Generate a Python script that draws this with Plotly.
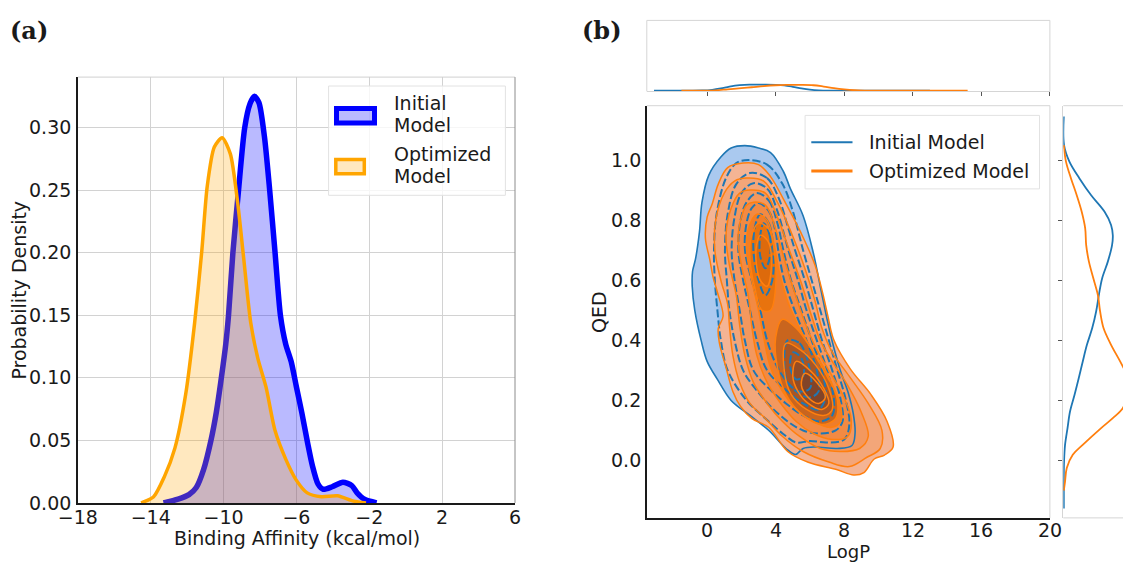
import plotly.graph_objects as go

W, H = 1123, 562
FONT = "DejaVu Sans"

# ---------------- panel (a): binding affinity densities ----------------
affinity_initial_x = [-13.3, -12.5, -11.9, -11.5, -11.1, -10.7, -10.4, -10.12, -9.88, -9.73,
                      -9.49, -9.18, -8.84, -8.55, -8.31, -8.06, -7.76, -7.47, -7.18, -6.88,
                      -6.59, -6.29, -6.0, -5.71, -5.41, -5.12, -4.82, -4.53, -4.04, -3.45,
                      -2.96, -2.67, -2.27, -1.6]
affinity_initial_y = [0.0, 0.003, 0.0066, 0.0123, 0.0266, 0.0496, 0.0725, 0.1003, 0.127, 0.15,
                      0.2, 0.25, 0.3, 0.319, 0.325, 0.32, 0.293, 0.25, 0.201, 0.15,
                      0.127, 0.113, 0.0926, 0.0725, 0.0496, 0.0295, 0.0152, 0.0109, 0.0129, 0.0166,
                      0.0138, 0.008, 0.0029, 0.0]

affinity_optimized_x = [-14.53, -13.84, -13.25, -12.67, -12.08, -11.59, -11.2, -10.9, -10.51, -10.08,
                        -9.63, -9.24, -8.9, -8.51, -8.12, -7.67, -7.18, -6.59, -6.0, -5.41,
                        -4.63, -3.75, -2.86, -2.18]
affinity_optimized_y = [0.0, 0.005, 0.021, 0.044, 0.087, 0.144, 0.201, 0.253, 0.2845, 0.292,
                        0.279, 0.2415, 0.196, 0.144, 0.1155, 0.0925, 0.058, 0.035, 0.018, 0.008,
                        0.005, 0.0057, 0.0014, 0.0]

affinity_ticks = [-18, -14, -10, -6, -2, 2, 6]
density_ticks = [0.0, 0.05, 0.10, 0.15, 0.20, 0.25, 0.30]

# ---------------- panel (b): LogP / QED joint densities ----------------
logp_ticks = [0, 4, 8, 12, 16, 20]
qed_ticks = [0.0, 0.2, 0.4, 0.6, 0.8, 1.0]

# marginal LogP densities (top)
logp_initial_x = [-3.1, -1.0, -0.3, 0.3, 0.8, 1.3, 1.9, 2.6, 3.3, 4.0, 4.5, 5.0, 5.5, 6.0, 6.5, 7.5, 10.0, 13.0]
logp_initial_y = [0.0, 0.0, 0.004, 0.02, 0.05, 0.09, 0.122, 0.13, 0.13, 0.127, 0.115, 0.085, 0.05, 0.022, 0.006, 0.001, 0.0, 0.0]
logp_optimized_x = [-1.5, 0.0, 0.5, 1.2, 2.0, 2.6, 3.3, 4.0, 4.6, 5.4, 6.2, 6.8, 7.4, 8.0, 8.6, 9.2, 11.0, 13.0, 15.2]
logp_optimized_y = [0.0, 0.002, 0.008, 0.03, 0.055, 0.075, 0.1, 0.118, 0.126, 0.125, 0.118, 0.09, 0.055, 0.028, 0.01, 0.003, 0.001, 0.0005, 0.0]

# marginal QED densities (right)
qed_initial_q = [1.145, 1.05, 0.994, 0.939, 0.883, 0.828, 0.784, 0.75, 0.717, 0.662, 0.606, 0.551,
                 0.496, 0.44, 0.385, 0.329, 0.274, 0.218, 0.163, 0.108, 0.052, -0.003, -0.059, -0.16]
qed_initial_d = [0.0, 0.01, 0.23, 0.63, 1.1, 1.64, 1.9, 1.97, 1.94, 1.77, 1.54, 1.41,
                 1.3, 1.14, 0.93, 0.76, 0.6, 0.43, 0.25, 0.15, 0.05, 0.01, 0.0, 0.0]
qed_optimized_q = [1.05, 0.994, 0.939, 0.883, 0.828, 0.773, 0.717, 0.662, 0.606, 0.551, 0.496, 0.44,
                   0.385, 0.329, 0.29, 0.25, 0.21, 0.174, 0.141, 0.108, 0.052, 0.019, -0.025, -0.07, -0.1]
qed_optimized_d = [0.0, 0.09, 0.29, 0.52, 0.72, 0.86, 0.9, 1.01, 1.19, 1.37, 1.46, 1.6,
                   1.9, 2.27, 2.5, 2.62, 2.55, 2.37, 1.97, 1.5, 0.76, 0.36, 0.12, 0.05, 0.0]

# joint-density contour outlines, (LogP, QED) pairs, outermost first
INITIAL_L0 = [(2.2, 1.048), (3.0, 1.04), (3.7, 1.025), (4.45, 0.962), (4.85, 0.906), (5.6, 0.815),
              (6.2, 0.69), (6.6, 0.58), (7.0, 0.47), (7.3, 0.396), (7.75, 0.304), (8.24, 0.224),
              (8.53, 0.155), (8.63, 0.09), (8.45, 0.05), (7.6, 0.04), (6.3, 0.045), (5.6, 0.04),
              (5.15, 0.02), (4.6, 0.04), (3.6, 0.1), (2.5, 0.15), (1.4, 0.2), (0.6, 0.27),
              (0.0, 0.33), (-0.35, 0.40), (-0.72, 0.5), (-0.87, 0.58), (-0.85, 0.63), (-0.68, 0.67),
              (-0.45, 0.76), (-0.3, 0.86), (0.1, 0.95), (0.8, 1.01), (1.4, 1.04)]
INITIAL_L1 = [(2.4, 1.0), (3.5, 0.985), (4.4, 0.92), (5.0, 0.83), (5.6, 0.7), (6.1, 0.6), (6.6, 0.5),
              (7.1, 0.4), (7.6, 0.3), (8.1, 0.2), (8.3, 0.12), (8.0, 0.07), (7.0, 0.06), (6.0, 0.065),
              (5.2, 0.06), (4.4, 0.09), (3.4, 0.14), (2.3, 0.2), (1.2, 0.3), (0.8, 0.4), (0.6, 0.5),
              (0.45, 0.6), (0.4, 0.7), (0.55, 0.82), (1.1, 0.94), (1.7, 0.99)]
INITIAL_L2 = [(2.5, 0.957), (3.5, 0.94), (4.2, 0.87), (4.7, 0.78), (5.13, 0.7), (5.7, 0.6), (6.2, 0.5),
              (6.7, 0.4), (7.3, 0.3), (7.8, 0.2), (7.9, 0.13), (7.5, 0.1), (6.5, 0.09), (5.6, 0.1),
              (4.7, 0.13), (3.7, 0.18), (2.8, 0.24), (2.1, 0.3), (1.6, 0.4), (1.3, 0.5), (1.15, 0.6),
              (1.04, 0.7), (1.2, 0.82), (1.7, 0.92)]
INITIAL_L3 = [(2.7, 0.923), (3.5, 0.905), (4.1, 0.83), (4.74, 0.7), (5.3, 0.6), (5.8, 0.5), (6.4, 0.4),
              (7.0, 0.3), (7.4, 0.2), (7.3, 0.15), (6.6, 0.13), (5.6, 0.15), (4.6, 0.19), (3.6, 0.24),
              (2.7, 0.3), (2.2, 0.4), (1.9, 0.5), (1.6, 0.6), (1.43, 0.7), (1.6, 0.81), (2.0, 0.89)]
INITIAL_L4 = [(2.9, 0.89), (3.6, 0.865), (4.1, 0.79), (4.45, 0.7), (4.9, 0.6), (5.5, 0.5), (6.1, 0.4),
              (6.7, 0.3), (6.9, 0.21), (6.5, 0.17), (5.6, 0.19), (4.7, 0.23), (3.5, 0.3), (2.9, 0.4),
              (2.5, 0.5), (2.1, 0.6), (1.82, 0.7), (1.95, 0.8), (2.3, 0.86)]
INITIAL_L5 = [(3.0, 0.857), (3.6, 0.83), (4.0, 0.76), (4.15, 0.7), (4.5, 0.6), (5.1, 0.5), (5.8, 0.4),
              (6.4, 0.3), (6.5, 0.23), (6.0, 0.21), (5.2, 0.23), (4.2, 0.3), (3.5, 0.4), (3.1, 0.5),
              (2.6, 0.6), (2.21, 0.7), (2.3, 0.79), (2.6, 0.84)]
INITIAL_L6_UPPER = [(3.1, 0.82), (3.6, 0.79), (3.86, 0.7), (3.8, 0.6), (3.4, 0.55), (3.0, 0.6),
                    (2.7, 0.7), (2.8, 0.78)]
INITIAL_L6_LOWER = [(4.7, 0.4), (5.4, 0.39), (6.0, 0.3), (6.0, 0.24), (5.4, 0.23), (4.7, 0.26), (4.5, 0.33)]
INITIAL_L7_UPPER = [(3.3, 0.79), (3.65, 0.75), (3.67, 0.68), (3.4, 0.64), (3.1, 0.68), (3.1, 0.75)]
INITIAL_L7_LOWER = [(5.0, 0.36), (5.5, 0.34), (5.6, 0.28), (5.2, 0.27), (4.85, 0.31)]

OPTIMIZED_L0 = [(1.2, 0.975), (2.1, 0.99), (3.0, 0.985), (3.7, 0.945), (4.5, 0.865), (5.5, 0.755),
                (6.3, 0.65), (6.75, 0.555), (7.05, 0.48), (7.4, 0.40), (8.35, 0.305), (9.55, 0.22),
                (10.5, 0.13), (10.85, 0.045), (10.35, 0.018), (9.75, 0.005), (9.15, -0.04), (8.55, -0.048),
                (7.55, -0.03), (5.9, -0.006), (4.7, 0.03), (3.6, 0.11), (2.6, 0.14), (1.95, 0.18),
                (1.5, 0.23), (1.1, 0.31), (0.72, 0.39), (0.65, 0.44), (0.93, 0.48), (0.6, 0.56),
                (0.35, 0.61), (0.15, 0.67), (-0.1, 0.74), (0.0, 0.81), (0.3, 0.855), (0.65, 0.92)]
OPTIMIZED_L1 = [(2.3, 0.94), (3.3, 0.93), (4.1, 0.86), (4.9, 0.76), (5.7, 0.64), (6.3, 0.53), (6.7, 0.44),
                (7.3, 0.36), (8.3, 0.28), (9.4, 0.19), (10.2, 0.1), (10.1, 0.04), (9.3, 0.01), (8.3, -0.02),
                (7.1, -0.005), (5.6, 0.03), (4.4, 0.08), (3.4, 0.14), (2.5, 0.19), (1.9, 0.26), (1.5, 0.35),
                (1.3, 0.45), (1.2, 0.52), (0.8, 0.6), (0.45, 0.7), (0.5, 0.8), (1.0, 0.89), (1.6, 0.93)]
OPTIMIZED_L2 = [(2.5, 0.9), (3.4, 0.89), (4.1, 0.81), (4.8, 0.7), (5.5, 0.59), (6.1, 0.48), (6.6, 0.4),
                (7.3, 0.33), (8.2, 0.25), (9.0, 0.16), (9.4, 0.08), (8.9, 0.04), (7.8, 0.03), (6.6, 0.04),
                (5.4, 0.08), (4.4, 0.13), (3.5, 0.19), (2.7, 0.26), (2.2, 0.35), (1.9, 0.45), (1.7, 0.55),
                (1.3, 0.65), (1.1, 0.75), (1.4, 0.84), (1.9, 0.89)]
OPTIMIZED_L3 = [(2.7, 0.86), (3.4, 0.85), (4.0, 0.77), (4.5, 0.67), (5.1, 0.56), (5.7, 0.46), (6.3, 0.38),
                (7.1, 0.3), (7.9, 0.22), (8.4, 0.14), (8.2, 0.08), (7.3, 0.07), (6.2, 0.09), (5.2, 0.13),
                (4.3, 0.19), (3.5, 0.26), (2.9, 0.35), (2.6, 0.45), (2.4, 0.55), (2.0, 0.65), (1.8, 0.74),
                (2.0, 0.81), (2.3, 0.85)]
OPTIMIZED_L4 = [(2.9, 0.82), (3.5, 0.8), (3.9, 0.72), (4.2, 0.63), (4.7, 0.53), (5.4, 0.44), (6.2, 0.36),
                (7.0, 0.28), (7.7, 0.2), (7.8, 0.13), (7.2, 0.11), (6.2, 0.13), (5.2, 0.17), (4.4, 0.23),
                (3.7, 0.31), (3.3, 0.41), (3.0, 0.5), (2.6, 0.6), (2.3, 0.7), (2.4, 0.77)]
OPTIMIZED_L5_UPPER = [(3.0, 0.79), (3.6, 0.77), (3.95, 0.68), (4.0, 0.58), (3.7, 0.5), (3.2, 0.5),
                      (2.8, 0.57), (2.5, 0.67), (2.6, 0.75)]
OPTIMIZED_L5_LOWER = [(4.4, 0.47), (5.2, 0.44), (6.1, 0.37), (7.0, 0.29), (7.6, 0.2), (7.5, 0.14),
                      (6.7, 0.12), (5.6, 0.15), (4.6, 0.22), (4.1, 0.31), (4.0, 0.41)]
OPTIMIZED_L6_UPPER = [(3.1, 0.75), (3.55, 0.73), (3.75, 0.65), (3.5, 0.58), (3.1, 0.6), (2.85, 0.67),
                      (2.9, 0.72)]
OPTIMIZED_L6_LOWER = [(4.6, 0.39), (5.4, 0.37), (6.3, 0.32), (7.1, 0.24), (7.3, 0.17), (6.8, 0.15),
                      (5.8, 0.17), (4.9, 0.22), (4.5, 0.3)]
OPTIMIZED_L7_LOWER = [(5.2, 0.33), (6.0, 0.3), (6.8, 0.24), (7.1, 0.19), (6.7, 0.17), (5.9, 0.19),
                      (5.3, 0.23), (5.0, 0.28)]
OPTIMIZED_L8_LOWER = [(5.7, 0.29), (6.4, 0.26), (6.9, 0.21), (6.5, 0.19), (5.9, 0.21), (5.5, 0.25)]

# ---------------- styling ----------------
BLUE_A, ORANGE_A = "#0000ff", "#ffa500"
BLUE_B, ORANGE_B = "#1f77b4", "#ff7f0e"

initial_levels = [
    (INITIAL_L0, "#aac9ef"), (INITIAL_L1, "#9dc0eb"), (INITIAL_L2, "#93b8e7"),
    (INITIAL_L3, "#89b0e3"), (INITIAL_L4, "#80a9df"), (INITIAL_L5, "#77a2db"),
    (INITIAL_L6_UPPER, "#6e9bd7"), (INITIAL_L6_LOWER, "#6e9bd7"),
    (INITIAL_L7_UPPER, "#6594d3"), (INITIAL_L7_LOWER, "#6594d3"),
]
optimized_levels = [
    (OPTIMIZED_L0, "#f4b494"), (OPTIMIZED_L1, "#f3a679"), (OPTIMIZED_L2, "#f3985e"),
    (OPTIMIZED_L3, "#f28a43"), (OPTIMIZED_L4, "#ef7d2a"),
    (OPTIMIZED_L5_UPPER, "#e8730e"), (OPTIMIZED_L5_LOWER, "#c9651e"),
    (OPTIMIZED_L6_UPPER, "#dd6a0c"), (OPTIMIZED_L6_LOWER, "#a95624"),
    (OPTIMIZED_L7_LOWER, "#944c26"), (OPTIMIZED_L8_LOWER, "#824428"),
]


def fx(p):
    return p / W


def fy(p):
    return 1 - p / H


def ring(points):
    xs = [p[0] for p in points] + [points[0][0]]
    ys = [p[1] for p in points] + [points[0][1]]
    return xs, ys


fig = go.Figure()

# panel (a) curves
fig.add_trace(go.Scatter(
    x=affinity_initial_x, y=affinity_initial_y, mode="lines", fill="tozeroy",
    fillcolor="rgba(0,0,255,0.27)", line=dict(color=BLUE_A, width=5.5, shape="spline", smoothing=0.7),
    xaxis="x", yaxis="y", hoverinfo="skip", showlegend=False))
fig.add_trace(go.Scatter(
    x=affinity_optimized_x, y=affinity_optimized_y, mode="lines", fill="tozeroy",
    fillcolor="rgba(255,165,0,0.25)", line=dict(color=ORANGE_A, width=3.5, shape="spline", smoothing=0.7),
    xaxis="x", yaxis="y", hoverinfo="skip", showlegend=False))

# panel (b) joint density: fills
for pts, col in initial_levels:
    xs, ys = ring(pts)
    fig.add_trace(go.Scatter(x=xs, y=ys, mode="lines", fill="toself", fillcolor=col,
                             line=dict(width=0, shape="spline", smoothing=1.0),
                             xaxis="x2", yaxis="y2", hoverinfo="skip", showlegend=False))
for pts, col in optimized_levels:
    xs, ys = ring(pts)
    fig.add_trace(go.Scatter(x=xs, y=ys, mode="lines", fill="toself", fillcolor=col,
                             line=dict(width=0, shape="spline", smoothing=1.0),
                             xaxis="x2", yaxis="y2", hoverinfo="skip", showlegend=False))
# contour lines
for i, (pts, _) in enumerate(initial_levels):
    xs, ys = ring(pts)
    fig.add_trace(go.Scatter(x=xs, y=ys, mode="lines",
                             line=dict(color=BLUE_B, width=1.6 if i == 0 else 2.0, shape="spline",
                                       smoothing=1.0, dash="solid" if i == 0 else "8px,3px"),
                             xaxis="x2", yaxis="y2", hoverinfo="skip", showlegend=False))
for pts, _ in optimized_levels:
    xs, ys = ring(pts)
    fig.add_trace(go.Scatter(x=xs, y=ys, mode="lines",
                             line=dict(color=ORANGE_B, width=1.5, shape="spline", smoothing=1.0),
                             xaxis="x2", yaxis="y2", hoverinfo="skip", showlegend=False))

# marginals
fig.add_trace(go.Scatter(x=logp_initial_x, y=logp_initial_y, mode="lines",
                         line=dict(color=BLUE_B, width=1.8, shape="spline"),
                         xaxis="x3", yaxis="y3", hoverinfo="skip", showlegend=False))
fig.add_trace(go.Scatter(x=logp_optimized_x, y=logp_optimized_y, mode="lines",
                         line=dict(color=ORANGE_B, width=1.8, shape="spline"),
                         xaxis="x3", yaxis="y3", hoverinfo="skip", showlegend=False))
fig.add_trace(go.Scatter(x=qed_initial_d, y=qed_initial_q, mode="lines",
                         line=dict(color=BLUE_B, width=1.8, shape="spline"),
                         xaxis="x4", yaxis="y4", hoverinfo="skip", showlegend=False))
fig.add_trace(go.Scatter(x=qed_optimized_d, y=qed_optimized_q, mode="lines",
                         line=dict(color=ORANGE_B, width=1.8, shape="spline"),
                         xaxis="x4", yaxis="y4", hoverinfo="skip", showlegend=False))

tick_font = dict(family=FONT, size=19, color="#1a1a1a")
minus = lambda v: str(v).replace("-", "\u2212")

# panel geometry (pixels)
A_L, A_R, A_T, A_B = 77.9, 515.0, 77.1, 502.9
B_L, B_R, B_T, B_B = 646.8, 1049.9, 105.7, 517.9
TOP_T, TOP_B = 20.4, 91.4
RIGHT_L = 1063.3

fig.update_layout(
    width=W, height=H, margin=dict(l=0, r=0, t=0, b=0, autoexpand=False),
    paper_bgcolor="white", plot_bgcolor="white", showlegend=False,
    xaxis=dict(domain=[fx(A_L), fx(A_R)], range=[-18, 6], anchor="y", automargin=False,
               tickvals=affinity_ticks, ticktext=[minus(v) for v in affinity_ticks],
               showgrid=True, gridcolor="#d2d2d2", gridwidth=1, zeroline=False,
               showline=True, linecolor="#1a1a1a", linewidth=1.5, ticks="", tickfont=tick_font,
               ticklabelstandoff=-3),
    yaxis=dict(domain=[fy(A_B), fy(A_T)], range=[0, 0.3404], anchor="x", automargin=False,
               tickvals=density_ticks, ticktext=[f"{v:.2f}" for v in density_ticks],
               showgrid=True, gridcolor="#d2d2d2", gridwidth=1, zeroline=False,
               showline=True, linecolor="#1a1a1a", linewidth=1.5, ticks="", tickfont=tick_font,
               ticklabelstandoff=1),
    xaxis2=dict(domain=[fx(B_L), fx(B_R)], range=[-3.52, 20], anchor="y2", automargin=False,
                tickvals=logp_ticks, showticklabels=False,
                showgrid=False, zeroline=False, showline=True, linecolor="#1a1a1a", linewidth=1.5,
                ticks=""),
    yaxis2=dict(domain=[fy(B_B), fy(B_T)], range=[-0.191, 1.181], anchor="x2", automargin=False,
                tickvals=qed_ticks, ticktext=[f"{v:.1f}" for v in qed_ticks],
                showgrid=False, zeroline=False, showline=True, linecolor="#1a1a1a", linewidth=1.5,
                ticks="", tickfont=tick_font),
    xaxis3=dict(domain=[fx(B_L), fx(B_R)], range=[-3.52, 20], anchor="y3", automargin=False,
                tickvals=logp_ticks, showticklabels=False, ticks="outside", ticklen=4,
                tickcolor="#555555", showgrid=False, zeroline=False, showline=True,
                linecolor="#d5d5d5", linewidth=1),
    yaxis3=dict(domain=[fy(TOP_B), fy(TOP_T)], range=[-0.015, 1.52], anchor="x3",
                automargin=False, visible=False),
    xaxis4=dict(domain=[fx(RIGHT_L), 1.0], range=[-0.02, 2.38], anchor="y4",
                automargin=False, visible=False),
    yaxis4=dict(domain=[fy(B_B), fy(B_T)], range=[-0.191, 1.181], anchor="x4", automargin=False,
                tickvals=qed_ticks, showticklabels=False, ticks="outside", ticklen=4,
                tickcolor="#555555", showgrid=False, zeroline=False, showline=True,
                linecolor="#d5d5d5", linewidth=1),
)

shapes = []


def pline(x0, y0, x1, y1, color, width=1.0):
    shapes.append(dict(type="line", xref="paper", yref="paper", x0=fx(x0), y0=fy(y0),
                       x1=fx(x1), y1=fy(y1), line=dict(color=color, width=width), layer="above"))


def prect(x0, y0, x1, y1, line_color, fill, width=1.0):
    shapes.append(dict(type="rect", xref="paper", yref="paper", x0=fx(x0), y0=fy(y0),
                       x1=fx(x1), y1=fy(y1), line=dict(color=line_color, width=width),
                       fillcolor=fill, layer="above"))


# remaining spines
pline(A_L, A_T, A_R, A_T, "#d0d0d0")
pline(A_R, A_T, A_R, A_B, "#8c8c8c")
pline(B_L, B_T, B_R, B_T, "#d5d5d5")
pline(B_R, B_T, B_R, B_B, "#d5d5d5")
pline(B_L, TOP_T, B_R, TOP_T, "#d5d5d5")
pline(B_L, TOP_T, B_L, TOP_B, "#d5d5d5")
pline(B_R, TOP_T, B_R, TOP_B, "#d5d5d5")
pline(RIGHT_L, B_T, W, B_T, "#d5d5d5")
pline(RIGHT_L, B_B, W, B_B, "#d5d5d5")

# legend (a)
prect(328.6, 86.0, 505.4, 195.3, "#e2e2e2", "rgba(255,255,255,0.8)")
prect(336.5, 108.5, 374.5, 123.0, BLUE_A, "rgba(0,0,255,0.27)", 5)
prect(335.8, 159.5, 364.3, 173.8, ORANGE_A, "rgba(255,165,0,0.25)", 3.5)
# legend (b)
prect(805.1, 115.4, 1039.5, 188.9, "#e2e2e2", "rgba(255,255,255,0.85)")
pline(811.3, 142.3, 852.5, 142.3, BLUE_B, 2)
pline(811.3, 171.0, 852.5, 171.0, ORANGE_B, 3)

fig.update_layout(shapes=shapes)

annotations = []


def ptext(text, x, y, size=19, anchor="center", angle=0, family=FONT, bold=False):
    annotations.append(dict(text=f"<b>{text}</b>" if bold else text, xref="paper", yref="paper",
                            x=fx(x), y=fy(y), xanchor=anchor, yanchor="middle", showarrow=False,
                            textangle=angle, font=dict(family=family, size=size, color="#1a1a1a")))


# LogP tick labels placed on the x2 scale
for v in logp_ticks:
    annotations.append(dict(text=str(v), xref="x2", x=v, yref="paper", y=fy(530.0),
                            xanchor="center", yanchor="middle", showarrow=False,
                            font=dict(family=FONT, size=19, color="#1a1a1a")))

ptext("Binding Affinity (kcal/mol)", 296.5, 538.0)
ptext("Probability Density", 18.6, 290.0, angle=-90)
ptext("LogP", 848.5, 551.0, size=18)
ptext("QED", 599.0, 312.0, angle=-90)
ptext("(a)", 28.5, 31.0, size=24, family="DejaVu Serif", bold=True)
ptext("(b)", 602.0, 31.0, size=24, family="DejaVu Serif", bold=True)
ptext("Initial", 391.8, 103.0, anchor="left")
ptext("Model", 391.8, 124.7, anchor="left")
ptext("Optimized", 391.8, 154.0, anchor="left")
ptext("Model", 391.8, 175.6, anchor="left")
ptext("Initial Model", 867.4, 142.3, anchor="left")
ptext("Optimized Model", 867.4, 171.0, anchor="left")
fig.update_layout(annotations=annotations)

fig.write_html("out.html")
